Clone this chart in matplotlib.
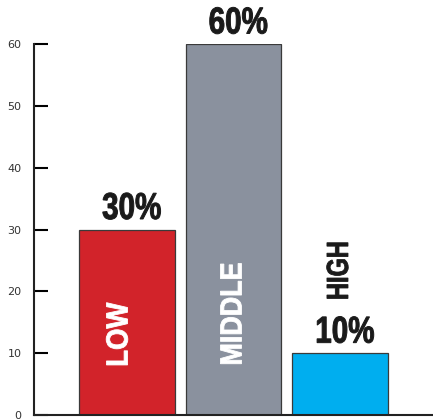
import matplotlib.pyplot as plt
from matplotlib.patheffects import AbstractPathEffect
from matplotlib.transforms import Affine2D

# income groups and their share (%)
groups = ["LOW", "MIDDLE", "HIGH"]
shares = [30, 60, 10]
bar_colors = ["#D2232A", "#8A919E", "#00AEEF"]
yticks = [0, 10, 20, 30, 40, 50, 60]


class Condensed(AbstractPathEffect):
    """Squeeze glyphs along the text direction and thicken them a bit."""

    def __init__(self, sx=0.8, lw=1.0, about="center"):
        super().__init__()
        self.sx = sx
        self.lw = lw
        self.about = about

    def draw_path(self, renderer, gc, tpath, affine, rgbFace):
        ext = tpath.get_extents()
        cx = (ext.x0 + ext.x1) / 2 if self.about == "center" else 0
        squeeze = Affine2D().translate(-cx, 0).scale(self.sx, 1).translate(cx, 0)
        gc0 = renderer.new_gc()
        gc0.copy_properties(gc)
        gc0.set_linewidth(self.lw)
        gc0.set_foreground(rgbFace)
        gc0.set_joinstyle("miter")
        renderer.draw_path(gc0, tpath, squeeze + affine, rgbFace)
        gc0.restore()


heavy = ["Liberation Sans", "DejaVu Sans"]

fig = plt.figure(figsize=(4.33, 4.20), dpi=100)
ax = fig.add_axes([34 / 433, 5 / 420, (432 - 34) / 433, (415 - 44) / 420])

pos = list(range(len(groups)))
ax.bar(pos, shares, width=0.9, color=bar_colors, edgecolor="#3a3a3a", linewidth=0.9)

ax.set_xlim(-0.873, 2.864)
ax.set_ylim(0, 60)
ax.set_yticks(yticks)
ax.set_xticks([])
ax.tick_params(axis="y", direction="in", length=10, width=1.5, pad=9,
               labelsize=8, labelcolor="#333333")
for s in ["top", "right"]:
    ax.spines[s].set_visible(False)
for s in ["left", "bottom"]:
    ax.spines[s].set_linewidth(1.5)
    ax.spines[s].set_color("#222222")
ax.spines["left"].set_bounds(0, 60)

# percentage labels above each bar
for x, v in zip(pos, shares):
    ax.text(x + 0.045, v + 1.7, f"{v}%", ha="center", va="baseline", fontsize=27,
            fontweight="bold", family=heavy, color="#1a1a1a",
            clip_on=False, path_effects=[Condensed(0.79, 0.7)])

# group names written upward
name_x = [pos[0] - 0.07, pos[1], pos[2]]
name_y = [7.8, 8.0, 18.6]
name_sx = [0.9, 0.88, 0.77]
name_col = ["white", "white", "#1a1a1a"]
for x, y, sx, name, c in zip(name_x, name_y, name_sx, groups, name_col):
    ax.text(x, y, name, rotation=90, ha="center", va="bottom", fontsize=22,
            fontweight="bold", family=heavy, color=c,
            path_effects=[Condensed(sx, 0.6, about="start")])

fig.savefig("out.png", dpi=100)
